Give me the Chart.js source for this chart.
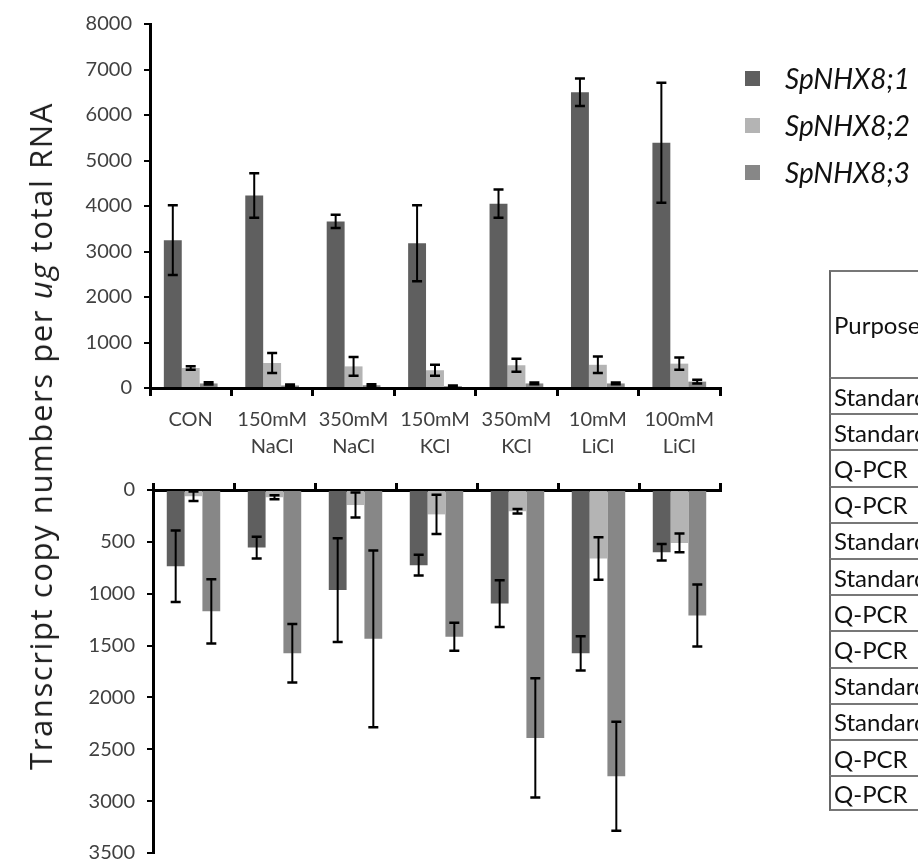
<!DOCTYPE html>
<html>
<head>
<meta charset="utf-8">
<script src="https://cdn.jsdelivr.net/npm/chart.js@4.4.0/dist/chart.umd.min.js"></script>
<style>
  html, body { margin: 0; padding: 0; background: #fff; }
  body { width: 918px; height: 860px; overflow: hidden; position: relative; }
  canvas { position: absolute; left: 0; top: 0; }
  #ytitle {
    position: absolute; left: 40px; top: 436px;
    transform: translate(-50%, -50%) rotate(-90deg);
    white-space: nowrap; font-family: 'Open Sans'; font-size: 31px; color: #1e1e1e;
    letter-spacing: 1.6px;
  }
  #legend { position: absolute; left: 745px; top: 0; font-family: Lato; font-style: italic; font-size: 28px; color: #111; }
  .lg-row { position: absolute; left: 0; height: 30px; display: flex; align-items: center; white-space: nowrap; }
  .lg-box { width: 15px; height: 15px; margin-right: 25px; }
  #table { position: absolute; left: 829px; top: 270px; font-family: Lato; font-size: 24px; color: #111; }
  .cell { position: absolute; left: 0; width: 300px; box-sizing: border-box; border-left: 2px solid #666; border-top: 2px solid #777; padding-left: 3px; display: flex; align-items: center; }
</style>
</head>
<body>
<canvas id="upper" width="918" height="860"></canvas>
<canvas id="lower" width="918" height="900"></canvas>
<div id="ytitle">Transcript copy numbers per <i>ug</i> total RNA</div>
<div id="legend"></div>
<div id="table"></div>
<script>
// treatments (shared x categories)
const categories = [['CON'], ['150mM', 'NaCl'], ['350mM', 'NaCl'], ['150mM', 'KCl'], ['350mM', 'KCl'], ['10mM', 'LiCl'], ['100mM', 'LiCl']];
const seriesNames = ['SpNHX8;1', 'SpNHX8;2', 'SpNHX8;3'];
const seriesColors = ['#5f5f5f', '#b4b4b4', '#878787'];

// upper panel: means and error
const upper1 = [3250, 4230, 3660, 3180, 4050, 6500, 5390];
const upper1Err = [765, 490, 145, 835, 310, 300, 1320];
const upper2 = [440, 550, 475, 390, 500, 510, 535];
const upper2Err = [40, 220, 205, 120, 145, 180, 135];
const upper3 = [100, 55, 60, 40, 100, 100, 140];
const upper3Err = [25, 20, 20, 15, 20, 20, 40];

// lower panel (axis reversed)
const lower1 = [735, 555, 965, 725, 1095, 1575, 600];
const lower1Err = [345, 105, 500, 100, 225, 165, 80];
const lower2 = [60, 70, 145, 235, 205, 660, 510];
const lower2Err = [45, 20, 120, 190, 22, 205, 90];
const lower3 = [1170, 1575, 1435, 1415, 2390, 2760, 1210];
const lower3Err = [310, 282, 852, 135, 575, 525, 300];

const upperTicks = [0, 8000, 1000];
const lowerTicks = [0, 3500, 500];

// table fragment at right
const tableHeader = 'Purpose';
const tableRows = ['Standard', 'Standard', 'Q-PCR', 'Q-PCR', 'Standard', 'Standard', 'Q-PCR', 'Q-PCR', 'Standard', 'Standard', 'Q-PCR', 'Q-PCR'];

const errorBars = {
  id: 'errorBars',
  afterDatasetsDraw(chart) {
    const ctx = chart.ctx;
    const y = chart.scales.y;
    ctx.save();
    ctx.strokeStyle = '#000';
    chart.data.datasets.forEach((ds, i) => {
      chart.getDatasetMeta(i).data.forEach((bar, j) => {
        const v = ds.data[j], e = ds.errors[j];
        const x = bar.x;
        const a = y.getPixelForValue(v + e);
        const b = y.getPixelForValue(v - e);
        ctx.lineWidth = 2;
        ctx.beginPath();
        ctx.moveTo(x, a); ctx.lineTo(x, b);
        ctx.stroke();
        ctx.lineWidth = 2.5;
        ctx.beginPath();
        ctx.moveTo(x - 5, a); ctx.lineTo(x + 5, a);
        ctx.moveTo(x - 5, b); ctx.lineTo(x + 5, b);
        ctx.stroke();
      });
    });
    ctx.restore();
  }
};

function makeSets(vals, errs) {
  return vals.map((v, i) => ({
    label: seriesNames[i],
    data: v,
    errors: errs[i],
    backgroundColor: seriesColors[i],
    borderWidth: 0,
    categoryPercentage: 0.66,
    barPercentage: 1
  }));
}

const tickFont = { family: 'Lato', size: 20 };
const plainNum = v => String(v);

new Chart(document.getElementById('upper'), {
  type: 'bar',
  data: { labels: categories, datasets: makeSets([upper1, upper2, upper3], [upper1Err, upper2Err, upper3Err]) },
  options: {
    responsive: false,
    animation: false,
    layout: { padding: { top: 23, left: 0, right: 198, bottom: 402 } },
    plugins: { legend: { display: false }, tooltip: { enabled: false } },
    scales: {
      x: {
        grid: { offset: true, drawOnChartArea: false, tickLength: 8, color: '#000', lineWidth: 3 },
        border: { color: '#000', width: 3 },
        ticks: { color: '#404040', font: { family: 'Lato', size: 20, lineHeight: 1.35 }, padding: 10, maxRotation: 0, autoSkip: false },
        afterFit: s => { s.height = 70; }
      },
      y: {
        min: upperTicks[0], max: upperTicks[1],
        grid: { drawOnChartArea: false, tickLength: 6, color: '#000', lineWidth: 2 },
        border: { color: '#000', width: 3 },
        ticks: { stepSize: upperTicks[2], color: '#404040', font: tickFont, padding: 12, callback: plainNum },
        afterFit: s => { s.width = 150; }
      }
    }
  },
  plugins: [errorBars]
});

new Chart(document.getElementById('lower'), {
  type: 'bar',
  data: { labels: categories, datasets: makeSets([lower1, lower2, lower3], [lower1Err, lower2Err, lower3Err]) },
  options: {
    responsive: false,
    animation: false,
    layout: { padding: { top: 480, left: 0, right: 198, bottom: 47 } },
    plugins: { legend: { display: false }, tooltip: { enabled: false } },
    scales: {
      x: {
        position: 'top',
        grid: { offset: true, drawOnChartArea: false, tickLength: 7, color: '#000', lineWidth: 3 },
        border: { color: '#000', width: 3 },
        ticks: { display: false },
        afterFit: s => { s.height = 10; }
      },
      y: {
        reverse: true,
        min: lowerTicks[0], max: lowerTicks[1],
        grid: { drawOnChartArea: false, tickLength: 6, color: '#000', lineWidth: 2 },
        border: { color: '#000', width: 3 },
        ticks: { stepSize: lowerTicks[2], color: '#404040', font: tickFont, padding: 12, callback: plainNum },
        afterFit: s => { s.width = 153; }
      }
    }
  },
  plugins: [errorBars]
});

// legend
const legend = document.getElementById('legend');
seriesNames.forEach((name, i) => {
  const row = document.createElement('div');
  row.className = 'lg-row';
  row.style.top = (63 + i * 47) + 'px';
  row.innerHTML = '<div class="lg-box" style="background:' + seriesColors[i] + '"></div>' + name;
  legend.appendChild(row);
});

// table
const table = document.getElementById('table');
function addCell(text, top, h, last) {
  const c = document.createElement('div');
  c.className = 'cell';
  c.style.top = top + 'px';
  c.style.height = h + 'px';
  if (last) c.style.borderBottom = '2px solid #777';
  c.textContent = text;
  table.appendChild(c);
}
addCell(tableHeader, 0, 107, false);
tableRows.forEach((t, i) => addCell(t, 107 + i * 36.2, 36.2, i === tableRows.length - 1));
</script>
</body>
</html>
